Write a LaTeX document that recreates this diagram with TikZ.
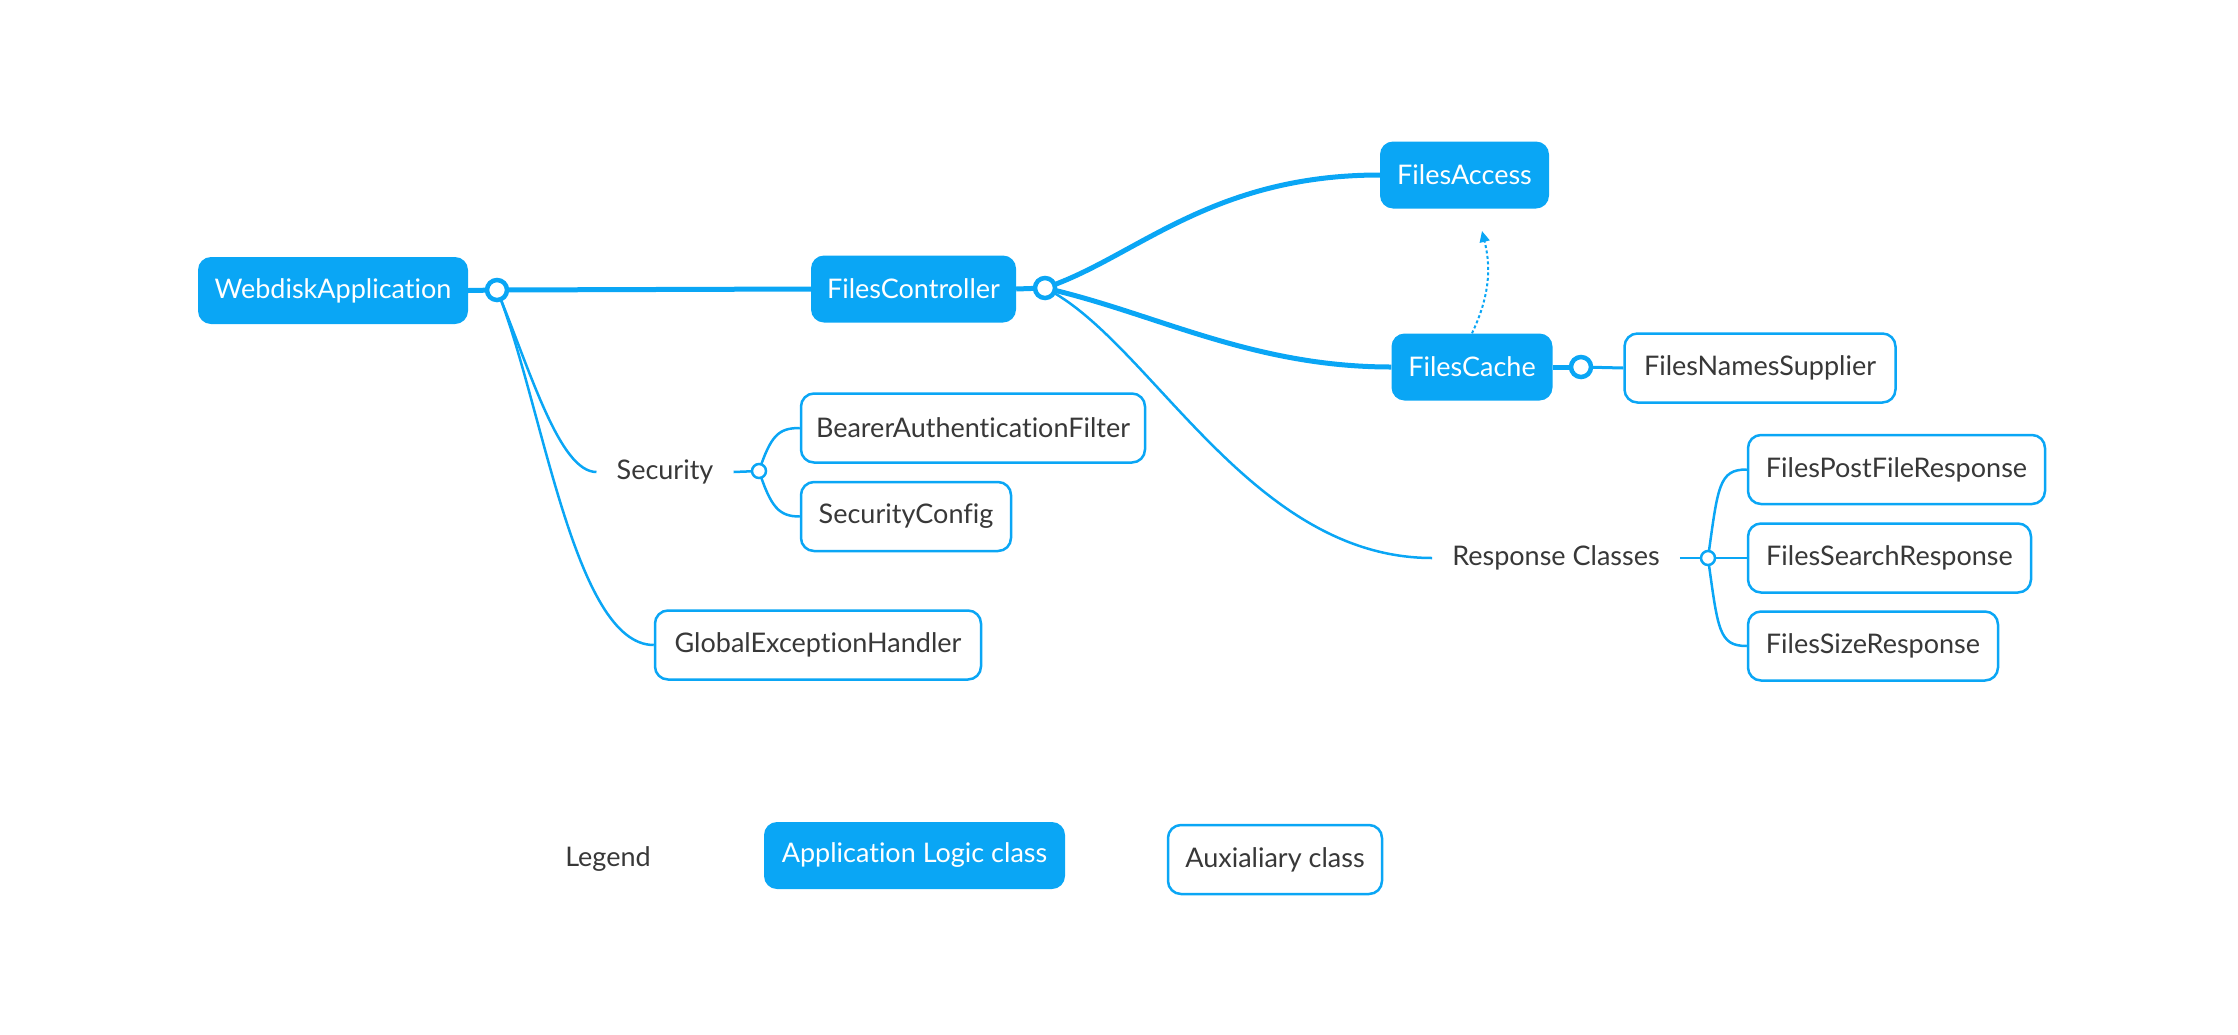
\documentclass[tikz,border=0pt]{standalone}
\usepackage{fontspec}
\setmainfont{Lato}[Ligatures={NoCommon,NoRequired,NoContextual}]
\usetikzlibrary{arrows.meta}
\definecolor{xblue}{HTML}{0AA6F5}
\definecolor{xtext}{HTML}{383838}
\begin{document}
\begin{tikzpicture}[x=1pt,y=-1pt,
  font=\fontsize{27}{32}\selectfont,
  mainbox/.style={draw=none, fill=xblue, text=white, rounded corners=13pt, minimum height=67pt, inner sep=0pt},
  auxbox/.style={draw=xblue, line width=2.5pt, fill=white, text=xtext, rounded corners=13pt, minimum height=69pt, inner sep=0pt},
  lbl/.style={text=xtext, inner xsep=20pt, inner ysep=0pt},
  bigdot/.style={circle, draw=xblue, fill=white, line width=4.5pt, minimum size=20pt, inner sep=0pt},
  smalldot/.style={circle, draw=xblue, fill=white, line width=2.5pt, minimum size=14pt, inner sep=0pt},
  mainlink/.style={draw=xblue, line width=5pt},
  midlink/.style={draw=xblue, line width=3pt},
  sublink/.style={draw=xblue, line width=2.5pt},
  dottedlink/.style={draw=xblue, line width=2pt, dash pattern=on 3pt off 2.5pt, -{Triangle[length=11pt,width=10pt]}}
]
\useasboundingbox (0,0) rectangle (2238,1034);

% main nodes
\node[mainbox, minimum width=270pt] (wa) at (333,290.5) {WebdiskApplication};
\node[mainbox, minimum width=205pt] (fc) at (913.5,289) {FilesController};
\node[mainbox, minimum width=169pt] (fa) at (1464.5,175) {FilesAccess};
\node[mainbox, minimum width=161pt] (fcache) at (1472,367) {FilesCache};

% aux nodes
\node[auxbox, minimum width=271pt] (fns) at (1760,368) {FilesNamesSupplier};
\node[auxbox, minimum width=344pt] (bea) at (973,428) {BearerAuthenticationFilter};
\node[auxbox, minimum width=210pt] (sc) at (906,516.5) {SecurityConfig};
\node[auxbox, minimum width=326pt] (geh) at (818,645) {GlobalExceptionHandler};
\node[auxbox, minimum width=297pt] (fpr) at (1896.5,469.5) {FilesPostFileResponse};
\node[auxbox, minimum width=283pt] (fsr) at (1889.5,558) {FilesSearchResponse};
\node[auxbox, minimum width=250pt] (fsz) at (1873,646) {FilesSizeResponse};

% labels
\node[lbl] (sec) at (665,472) {Security};
\node[lbl] (rc) at (1556,558) {Response Classes};

% legend
\node[lbl] (leg) at (608,859) {Legend};
\node[mainbox, minimum width=301pt] (al) at (914.5,855.5) {Application Logic class};
\node[auxbox, minimum width=214pt] (aux) at (1275,859.5) {Auxialiary class};

% connector dots (positions)
\coordinate (d1) at (497,290);
\coordinate (d2) at (1045,288);
\coordinate (d3) at (1581,367);
\coordinate (d4) at (759,471);
\coordinate (d5) at (1708,558);
\coordinate (tip) at (1482,231);

% thin branches
\draw[sublink] (d1) .. controls +(33,80) and +(-37,0) .. (sec.west);
\draw[sublink] (d1) .. controls +(45,110) and +(-80,0) .. (geh.west);
\draw[sublink] (d2) .. controls +(105,52) and +(-182,0) .. (rc.west);
\draw[sublink] (sec.east) -- (d4);
\draw[sublink] (d4) .. controls +(12,-36) and +(-21,0) .. (bea.west);
\draw[sublink] (d4) .. controls +(12,36) and +(-21,0) .. (sc.west);
\draw[sublink] (rc.east) -- (d5);
\draw[sublink] (d5) .. controls +(10,-72) and +(-28,0) .. (fpr.west);
\draw[sublink] (d5) -- (fsr.west);
\draw[sublink] (d5) .. controls +(10,72) and +(-28,0) .. (fsz.west);
\draw[midlink] (d3) -- (fns.west);

% thick branches
\draw[mainlink] (wa.east) -- (d1);
\draw[mainlink] (d1) -- (fc.west);
\draw[mainlink] (fc.east) -- (d2);
\draw[mainlink] (d2) .. controls +(90,-30) and +(-170,0) .. (fa.west);
\draw[mainlink] (d2) .. controls +(110,25) and +(-140,0) .. (fcache.west);
\draw[mainlink] (fcache.east) -- (d3);

% dots drawn on top
\node[bigdot] (c1) at (d1) {};
\node[bigdot] (c2) at (d2) {};
\node[bigdot] (c3) at (d3) {};
\node[smalldot] (c4) at (d4) {};
\node[smalldot] (c5) at (d5) {};

% dotted dependency arrow
\draw[dottedlink] (fcache.north) .. controls +(16,-34) and +(10,40) .. (tip);
\end{tikzpicture}
\end{document}
